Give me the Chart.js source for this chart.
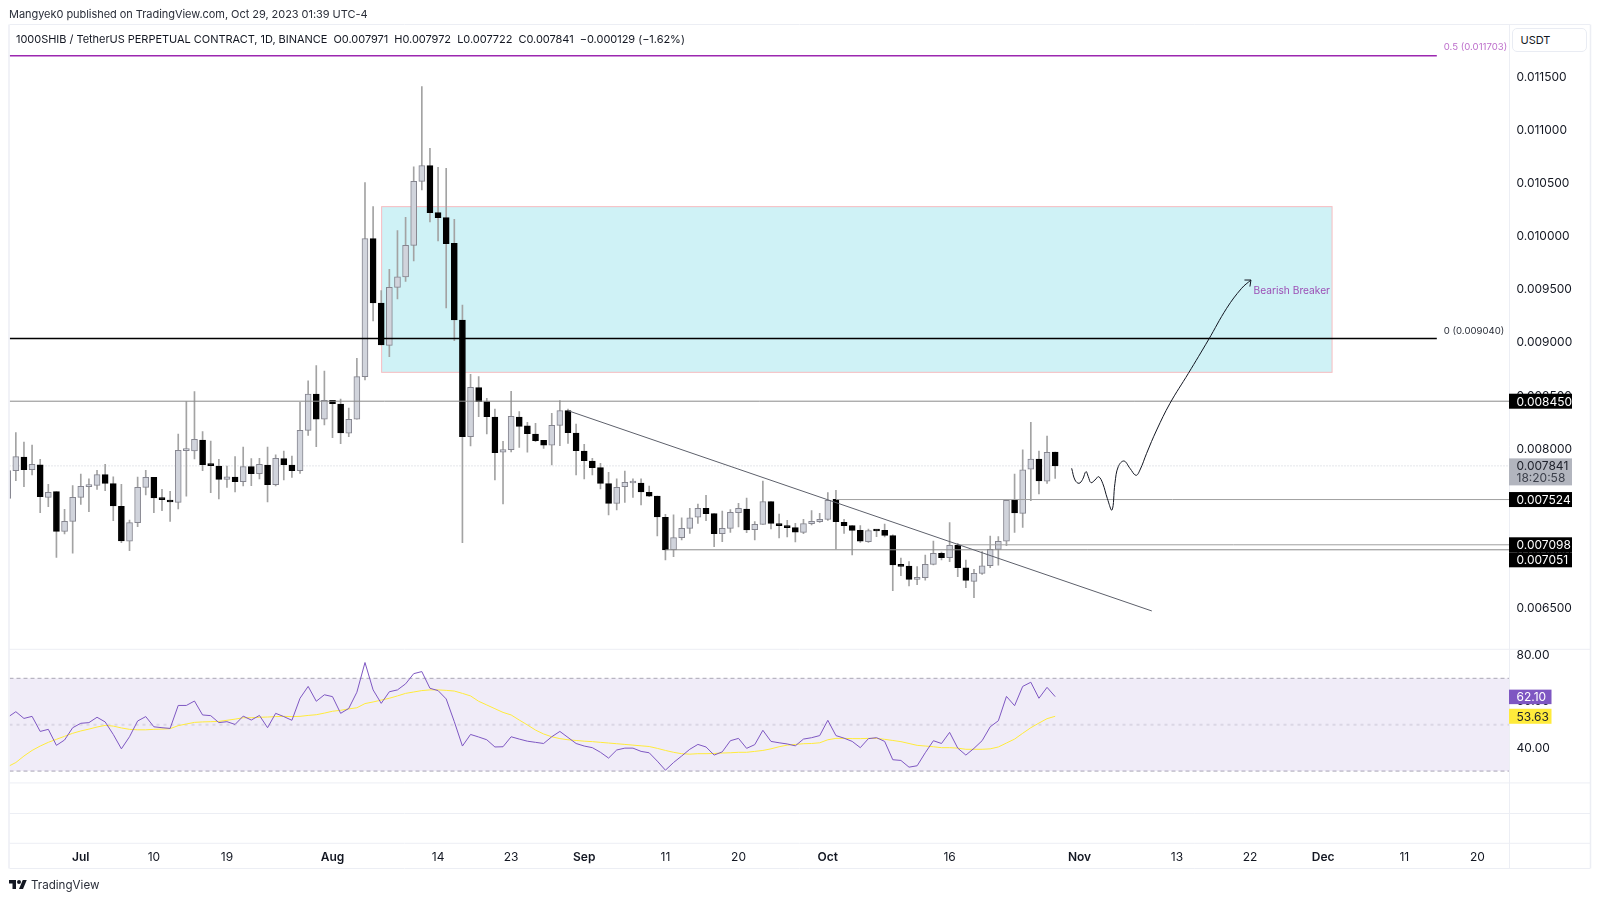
<!DOCTYPE html>
<html lang="en">
<head>
<meta charset="utf-8">
<title>1000SHIB / TetherUS</title>
<style>
html,body{margin:0;padding:0;background:#fff;width:1600px;height:901px;overflow:hidden}
#wrap{position:relative;width:1600px;height:901px}
canvas{position:absolute;left:0;top:0}
.t{position:absolute;font-family:Inter,"Noto Sans",sans-serif;color:#131722;white-space:pre}
#pub{left:9px;top:7px;font-size:11px;line-height:15px;color:#2a2e39;letter-spacing:-0.047px}
#sym{left:16px;top:31px;font-size:11px;line-height:16px;letter-spacing:-0.035px}
#usdt{left:1512px;top:28px;width:75px;height:24px;box-sizing:border-box;border:1px solid #e9ecf3;border-radius:5px;font-size:11px;line-height:22px;padding-left:7.5px;background:#fff}
#logo{position:absolute;left:9px;top:880px}
#tv{left:31px;top:876px;font-size:11.6px;line-height:18px;color:#2a2e39}
</style>
</head>
<body>
<div id="wrap">
<canvas id="c" width="1600" height="901"></canvas>
<div class="t" id="pub">Mangyek0 published on TradingView.com, Oct 29, 2023 01:39 UTC-4</div>
<div class="t" id="sym">1000SHIB / TetherUS PERPETUAL CONTRACT, 1D, BINANCE  O0.007971  H0.007972  L0.007722  C0.007841  −0.000129 (−1.62%)</div>
<div class="t" id="usdt">USDT</div>
<svg id="logo" width="18" height="9" viewBox="0 4 36 18"><path fill="#131722" d="M14 22H7V11H0V4h14v18zM28 22h-8l7.5-18h8L28 22z"/><circle fill="#131722" cx="20" cy="8" r="4"/></svg>
<div class="t" id="tv">TradingView</div>
</div>
<script src="https://cdn.jsdelivr.net/npm/chart.js@4"></script>
<script>
// ---------- data ----------
const opens = [
0.007535,0.007796,0.007925,0.007805,0.007852,0.007545,0.007598,0.007225,0.007319,0.007545,
0.007645,0.007658,0.007758,0.007674,0.007460,0.007131,0.007306,0.007639,0.007733,0.007535,
0.007517,0.007498,0.007984,0.007981,0.008085,0.007852,0.007840,0.007714,0.007736,0.007692,
0.007834,0.007768,0.007849,0.007664,0.007909,0.007849,0.007796,0.008176,0.008518,0.008282,
0.008458,0.008424,0.008148,0.008282,0.008681,0.009981,0.009375,0.008976,0.009522,0.009620,
0.009918,0.010520,0.010668,0.010225,0.010178,0.009937,0.009215,0.008116,0.008578,0.008446,
0.008301,0.007969,0.007994,0.008301,0.008217,0.008141,0.008082,0.008035,0.008223,0.008361,
0.008151,0.007981,0.007887,0.007824,0.007674,0.007488,0.007645,0.007680,0.007680,0.007592,
0.007557,0.007357,0.007049,0.007165,0.007253,0.007357,0.007441,0.007391,0.007203,0.007253,
0.007400,0.007435,0.007240,0.007291,0.007504,0.007297,0.007275,0.007259,0.007215,0.007297,
0.007316,0.007338,0.007526,0.007309,0.007278,0.007234,0.007127,0.007234,0.007234,0.007184,
0.006905,0.006898,0.006773,0.006788,0.006914,0.007018,0.006977,0.007096,0.006880,0.006754,
0.006829,0.006901,0.007055,0.007131,0.007517,0.007394,0.007809,0.007906,0.007696,0.007971];
const highs = [
0.007850,0.008154,0.008066,0.008038,0.007903,0.007667,0.007598,0.007432,0.007655,0.007765,
0.007718,0.007799,0.007856,0.007739,0.007667,0.007331,0.007736,0.007799,0.007733,0.007620,
0.007601,0.008141,0.008446,0.008540,0.008163,0.008075,0.007903,0.007840,0.007928,0.008019,
0.007909,0.007912,0.008019,0.007944,0.007981,0.007934,0.008439,0.008643,0.008785,0.008734,
0.008458,0.008471,0.008386,0.008854,0.010508,0.010282,0.009491,0.009692,0.010056,0.010181,
0.010658,0.011412,0.010831,0.010652,0.010643,0.010163,0.009356,0.008703,0.008681,0.008477,
0.008377,0.008072,0.008543,0.008352,0.008251,0.008242,0.008082,0.008336,0.008455,0.008377,
0.008235,0.008044,0.007912,0.007865,0.007780,0.007718,0.007793,0.007718,0.007718,0.007652,
0.007557,0.007385,0.007379,0.007353,0.007441,0.007482,0.007564,0.007391,0.007416,0.007429,
0.007488,0.007539,0.007316,0.007699,0.007504,0.007388,0.007328,0.007300,0.007338,0.007419,
0.007394,0.007589,0.007611,0.007338,0.007278,0.007278,0.007247,0.007240,0.007294,0.007193,
0.006974,0.006939,0.006892,0.007002,0.007134,0.007030,0.007306,0.007112,0.006955,0.006867,
0.007033,0.007181,0.007175,0.007520,0.007765,0.007991,0.008251,0.007981,0.008122,0.007972];
const lows = [
0.007500,0.007702,0.007645,0.007755,0.007401,0.007457,0.006980,0.007200,0.007018,0.007479,
0.007410,0.007620,0.007608,0.007325,0.007118,0.007043,0.007269,0.007567,0.007401,0.007419,
0.007319,0.007435,0.007557,0.007906,0.007796,0.007589,0.007529,0.007639,0.007595,0.007652,
0.007655,0.007718,0.007501,0.007652,0.007708,0.007733,0.007771,0.008129,0.008022,0.008226,
0.008107,0.008050,0.008116,0.008282,0.008650,0.009205,0.008979,0.008869,0.009412,0.009579,
0.009770,0.010439,0.010137,0.009959,0.009328,0.009020,0.007118,0.008028,0.008304,0.008141,
0.007708,0.007482,0.007972,0.008016,0.007969,0.008069,0.008006,0.007849,0.008031,0.008053,
0.007755,0.007718,0.007755,0.007623,0.007379,0.007426,0.007498,0.007545,0.007473,0.007551,
0.007181,0.006955,0.006986,0.007143,0.007206,0.007300,0.007325,0.007080,0.007127,0.007215,
0.007266,0.007212,0.007143,0.007291,0.007247,0.007162,0.007171,0.007124,0.007203,0.007284,
0.007309,0.007328,0.007058,0.007206,0.007002,0.007121,0.007121,0.007175,0.007171,0.006666,
0.006807,0.006710,0.006723,0.006766,0.006908,0.006955,0.006939,0.006798,0.006694,0.006600,
0.006820,0.006883,0.006905,0.007090,0.007215,0.007262,0.007514,0.007576,0.007677,0.007722];
const closes = [
0.007796,0.007928,0.007805,0.007856,0.007551,0.007592,0.007225,0.007319,0.007545,0.007648,
0.007658,0.007758,0.007677,0.007463,0.007134,0.007306,0.007639,0.007733,0.007539,0.007523,
0.007501,0.007987,0.007991,0.008091,0.007852,0.007843,0.007714,0.007739,0.007692,0.007834,
0.007768,0.007856,0.007664,0.007912,0.007852,0.007796,0.008176,0.008518,0.008282,0.008458,
0.008427,0.008151,0.008279,0.008681,0.009981,0.009375,0.008979,0.009522,0.009620,0.009918,
0.010520,0.010668,0.010225,0.010178,0.009933,0.009215,0.008116,0.008581,0.008446,0.008304,
0.007965,0.007994,0.008308,0.008213,0.008144,0.008078,0.008035,0.008223,0.008361,0.008154,
0.007984,0.007890,0.007824,0.007677,0.007488,0.007639,0.007686,0.007686,0.007595,0.007557,
0.007360,0.007049,0.007165,0.007253,0.007353,0.007441,0.007391,0.007203,0.007253,0.007404,
0.007441,0.007237,0.007291,0.007504,0.007300,0.007278,0.007259,0.007218,0.007297,0.007319,
0.007338,0.007517,0.007316,0.007278,0.007234,0.007131,0.007231,0.007228,0.007187,0.006908,
0.006895,0.006773,0.006792,0.006914,0.007018,0.006977,0.007093,0.006883,0.006763,0.006829,
0.006901,0.007055,0.007131,0.007517,0.007397,0.007805,0.007906,0.007699,0.007969,0.007841];
const rsi = [
53.2,55.6,52.7,53.6,47.1,48.0,41.1,43.4,48.7,50.6,
50.9,53.2,51.2,45.8,39.6,44.8,51.6,53.5,49.1,48.7,
48.4,58.3,58.3,60.2,54.2,53.9,50.9,51.3,50.1,53.7,
52.0,54.0,48.7,54.9,53.5,51.9,61.4,66.5,60.1,62.9,
62.1,54.9,57.0,64.0,76.8,65.0,59.2,64.2,65.0,67.6,
72.0,72.9,65.7,64.7,61.1,51.3,40.8,45.8,44.7,43.5,
40.4,40.5,44.8,43.8,42.9,42.4,41.9,44.8,47.1,44.5,
41.9,40.8,40.1,38.1,35.6,39.1,39.9,39.9,38.5,37.9,
34.3,30.4,33.7,36.5,39.4,41.5,40.4,36.9,38.3,43.1,
44.1,39.8,41.4,47.6,42.8,42.2,41.7,40.9,43.8,44.4,
45.3,51.9,45.3,44.2,42.8,40.1,44.0,44.4,42.8,34.9,
34.6,31.7,32.3,37.9,43.1,41.9,46.7,39.9,36.9,39.8,
43.1,49.1,51.7,62.2,58.2,66.5,68.3,61.4,66.1,62.1];
const rsiMa = [
31.9,33.7,36.5,38.9,40.8,42.4,43.7,45.0,46.3,47.3,
48.1,49.0,49.7,49.4,48.6,48.0,47.8,47.8,48.0,48.1,
48.3,49.6,50.3,51.0,51.2,51.3,51.4,51.9,52.4,53.0,
53.0,53.2,53.3,53.5,53.6,53.5,53.6,54.0,54.3,55.0,
55.8,56.2,56.8,57.3,59.1,59.8,60.6,61.4,62.4,63.5,
64.1,64.7,65.0,65.0,64.8,64.5,63.5,62.4,60.1,58.5,
56.9,55.3,54.2,52.0,49.9,47.7,46.0,44.8,44.0,43.5,
43.2,42.9,42.7,42.4,42.1,41.8,41.5,41.2,40.9,40.6,
39.8,38.9,38.1,37.5,37.3,37.5,37.5,37.6,37.8,37.9,
38.1,38.1,38.5,38.9,39.6,40.5,41.2,41.5,41.8,41.9,
42.2,43.5,44.1,44.1,44.0,44.0,44.1,44.1,43.7,43.2,
42.7,41.9,41.1,40.8,40.5,40.1,40.1,39.9,39.4,39.4,
39.4,39.6,40.4,42.1,43.8,46.3,48.7,50.7,52.6,53.63];
const firstCandleDay = -9;                      // day offset from 1 Jul 2023
const priceTicks = [0.0065,0.007,0.0075,0.008,0.0085,0.009,0.0095,0.01,0.0105,0.011,0.0115];
const rsiTicks = [40,60,80];
const timeTickDays = [0,9,18,31,44,53,62,72,81,92,107,123,135,144,153,163,172];
const timeTickLabels = ["Jul","10","19","Aug","14","23","Sep","11","20","Oct","16","Nov","13","22","Dec","11","20"];
const monthLabels = ["Jul","Aug","Sep","Oct","Nov","Dec"];
const fibHigh = 0.011703, fibLow = 0.009040, fibEndDay = 167;
const level8450 = 0.008450, level7524 = 0.007524, level7098 = 0.007098, level7051 = 0.007051;
const level7524Start = 93, level7098Start = 108, level7051Start = 72;
const lastPrice = 0.007841, lastCountdown = "18:20:58";
const trendDays = [60,131.9], trendPrices = [0.008361,0.006475];
const zoneDays = [37.05,154.1], zonePrices = [0.010282,0.008722];
const pathDays = [122.03,122.44,122.93,123.38,123.79,124.08,124.41,124.9,125.35,125.85,126.42,127,127.36,127.77,128.47,129.21,129.95,130.44,131.26,132.5,134.14,136.4,138.86,141.12,142.96,144.11];
const pathPrices = [0.007818,0.007708,0.007677,0.007714,0.007787,0.007739,0.007683,0.007708,0.007739,0.007677,0.007535,0.007426,0.007677,0.007834,0.007887,0.007818,0.007752,0.007802,0.007959,0.008179,0.00843,0.008712,0.009026,0.009325,0.009513,0.009591];
const rsiLevels = [70,50,30];
const lastRsi = 62.10, lastRsiMa = 53.63;
const extraPaneRsi = [24.9,11.7];               // empty sub-pane separators

// ---------- chart ----------
const FONT = 'Inter, "Noto Sans", sans-serif';
const X_MIN = -8.78, X_MAX = 175.89;
const days = opens.map((_, i) => i + firstCandleDay);
const isUp = i => closes[i] >= opens[i];
const seg = (x0, x1, v) => [{x: x0, y: v}, {x: x1, y: v}];
const xy = (xs, ys) => xs.map((x, i) => ({x, y: ys[i]}));
const line = (data, color, width, extra) => Object.assign({
  type: 'line', data, borderColor: color, borderWidth: width, pointRadius: 0,
  pointHitRadius: 0, tension: 0, fill: false, xAxisID: 'x', yAxisID: 'y', order: 1
}, extra || {});

const datasets = [
  line(xy(pathDays, pathPrices), '#131722', 1, {tension: 0.4, order: 0}),
  line(xy(trendDays, trendPrices), '#5d606b', 1),
  line(seg(X_MIN, fibEndDay, fibHigh), '#9c27b0', 1.5),
  line(seg(X_MIN, fibEndDay, fibLow), '#000000', 1.5),
  line(seg(X_MIN, X_MAX, level8450), '#8a8a8a', 1),
  line(seg(level7524Start, X_MAX, level7524), '#a0a0a0', 1),
  line(seg(level7098Start, X_MAX, level7098), '#a0a0a0', 1),
  line(seg(level7051Start, X_MAX, level7051), '#8a8a8a', 1),
  line(seg(X_MIN, X_MAX, lastPrice), '#c9ccd4', 1, {borderDash: [1, 2], order: 4}),
  {type: 'bar', data: days.map((d, i) => ({x: d, y: [opens[i], closes[i]]})),
   backgroundColor: days.map((_, i) => isUp(i) ? '#d1d4dc' : '#000000'),
   borderColor: days.map((_, i) => isUp(i) ? '#85858f' : '#000000'),
   borderWidth: 1, borderSkipped: false, barThickness: 6, minBarLength: 2, grouped: false,
   xAxisID: 'x', yAxisID: 'y', order: 2},
  {type: 'bar', data: days.map((d, i) => ({x: d, y: [lows[i], highs[i]]})),
   backgroundColor: '#a3a3a3', borderWidth: 0, barThickness: 1, grouped: false,
   xAxisID: 'x', yAxisID: 'y', order: 3},
  line(xy(days, rsi), '#7e57c2', 1, {yAxisID: 'yRsi'}),
  line(xy(days, rsiMa), '#ffeb3b', 1, {yAxisID: 'yRsi', order: 1.5}),
  line(seg(X_MIN, X_MAX, rsiLevels[0]), '#a9a7b5', 1, {yAxisID: 'yRsi', borderDash: [4, 3], fill: '+1',
       backgroundColor: 'rgba(126,87,194,0.115)', order: 5}),
  line(seg(X_MIN, X_MAX, rsiLevels[2]), '#a9a7b5', 1, {yAxisID: 'yRsi', borderDash: [4, 3], order: 5}),
  line(seg(X_MIN, X_MAX, rsiLevels[1]), 'rgba(165,165,175,0.28)', 2, {yAxisID: 'yRsi', borderDash: [3, 4], order: 5})
];

const overlay = {
  id: 'overlay',
  beforeDatasetsDraw(ch) {
    const {ctx, scales: {x, y}} = ch;
    const L = x.getPixelForValue(zoneDays[0]), R = x.getPixelForValue(zoneDays[1]);
    const T = y.getPixelForValue(zonePrices[0]), B = y.getPixelForValue(zonePrices[1]);
    ctx.save();
    ctx.fillStyle = '#cff2f6';
    ctx.fillRect(L, T, R - L, B - T);
    ctx.strokeStyle = '#f7bcc0';
    ctx.lineWidth = 1;
    ctx.strokeRect(L, T, R - L, B - T);
    ctx.restore();
  },
  afterDraw(ch) {
    const {ctx, chartArea: A, scales: {x, y, yRsi: r}} = ch;
    ctx.save();
    // frame and pane separators
    ctx.strokeStyle = '#eceef4';
    ctx.lineWidth = 1;
    const hl = py => { ctx.beginPath(); ctx.moveTo(A.left, py); ctx.lineTo(A.right + 81, py); ctx.stroke(); };
    hl(24.5); hl(r.top); hl(r.getPixelForValue(extraPaneRsi[0])); hl(r.getPixelForValue(extraPaneRsi[1]));
    hl(A.bottom); hl(868.5);
    const vl = px => { ctx.beginPath(); ctx.moveTo(px, 24.5); ctx.lineTo(px, 868.5); ctx.stroke(); };
    ctx.lineWidth = 1.5; vl(A.left - 0.5); vl(A.right + 81.5);
    ctx.lineWidth = 1; vl(A.right + 0.5);

    // in-chart labels
    ctx.save();
    ctx.beginPath(); ctx.rect(A.left, A.top, A.right - A.left, A.bottom - A.top); ctx.clip();
    ctx.textBaseline = 'middle'; ctx.textAlign = 'left';
    ctx.font = '9.6px ' + FONT;
    const fx = x.getPixelForValue(fibEndDay) + 7;
    ctx.fillStyle = '#bd6fcb';
    ctx.fillText('0.5 (0.011703)', fx, y.getPixelForValue(fibHigh) - 8.5);
    ctx.fillStyle = '#2a2e39';
    ctx.fillText('0 (0.009040)', fx, y.getPixelForValue(fibLow) - 7.5);
    ctx.font = '10.2px ' + FONT;
    ctx.fillStyle = '#9c4fb5';
    ctx.fillText('Bearish Breaker', x.getPixelForValue(zoneDays[1]) - 78.5, 290.5);
    ctx.restore();

    // arrow head
    const n = pathDays.length - 1;
    const tx = x.getPixelForValue(pathDays[n]), ty = y.getPixelForValue(pathPrices[n]);
    ctx.strokeStyle = '#131722'; ctx.lineWidth = 1;
    ctx.beginPath();
    ctx.moveTo(tx - 6.5, ty); ctx.lineTo(tx, ty); ctx.lineTo(tx - 1, ty + 6.5);
    ctx.stroke();

    // price tags
    const tag = (py, h, w, bg, fg, label, sub) => {
      ctx.fillStyle = bg;
      ctx.fillRect(A.right, py, w, h);
      ctx.fillStyle = fg;
      ctx.font = '12px ' + FONT; ctx.textBaseline = 'middle'; ctx.textAlign = 'left';
      ctx.fillText(label, A.right + 7.5, sub ? py + 8 : py + h / 2 + 0.8);
      if (sub) { ctx.fillStyle = '#3b3f4a'; ctx.fillText(sub, A.right + 7.5, py + 20.5); }
    };
    let bottom = -1;
    [level8450, level7524, level7098, level7051].forEach(v => {
      const top = Math.max(y.getPixelForValue(v) - 7.5, bottom);
      tag(top, 15, 63, '#000000', '#ffffff', v.toFixed(6));
      bottom = top + 15;
    });
    tag(y.getPixelForValue(lastPrice) - 7.5, 27, 63, '#b2b5be', '#20232d', lastPrice.toFixed(6), lastCountdown);
    tag(r.getPixelForValue(lastRsi) - 7, 14.5, 42.5, '#7e57c2', '#ffffff', lastRsi.toFixed(2));
    tag(r.getPixelForValue(lastRsiMa) - 7.5, 15, 42.5, '#ffeb3b', '#20232d', lastRsiMa.toFixed(2));
    ctx.restore();
  }
};

const yCommon = {
  type: 'linear', position: 'right', stack: 'panes',
  grid: {display: false, drawTicks: false}, border: {display: false},
  afterFit(s) { s.width = 81.3; }
};

new Chart(document.getElementById('c'), {
  data: {datasets},
  plugins: [overlay],
  options: {
    responsive: false, animation: false, devicePixelRatio: 1,
    layout: {padding: {left: 9.5, right: 9.7, top: 24.5, bottom: 32.7}},
    plugins: {legend: {display: false}, tooltip: {enabled: false}},
    events: [],
    scales: {
      x: {
        type: 'linear', min: X_MIN, max: X_MAX, position: 'bottom', offset: false,
        grid: {display: false, drawTicks: false}, border: {display: false},
        afterFit(s) { s.height = 25; },
        afterBuildTicks(s) { s.ticks = timeTickDays.map(v => ({value: v})); },
        ticks: {
          autoSkip: false, maxRotation: 0, padding: 6.5, color: '#131722',
          font: c => ({family: FONT, size: 12,
            weight: monthLabels.includes(timeTickLabels[timeTickDays.indexOf(c.tick && c.tick.value)]) ? '600' : '400'}),
          callback: v => timeTickLabels[timeTickDays.indexOf(v)]
        }
      },
      y: Object.assign({}, yCommon, {
        min: 0.006114, max: 0.011997, stackWeight: 624.8,
        afterBuildTicks(s) { s.ticks = priceTicks.map(v => ({value: v})); },
        ticks: {autoSkip: false, padding: 7.5, color: '#131722', font: {family: FONT, size: 12},
                callback: v => v.toFixed(6)}
      }),
      yRsi: Object.assign({}, yCommon, {
        min: -1.12, max: 82.5, stackWeight: 194,
        afterBuildTicks(s) { s.ticks = rsiTicks.map(v => ({value: v})); },
        ticks: {autoSkip: false, padding: 7.5, color: '#131722', font: {family: FONT, size: 12},
                callback: v => v.toFixed(2)}
      })
    }
  }
});
</script>
</body>
</html>
